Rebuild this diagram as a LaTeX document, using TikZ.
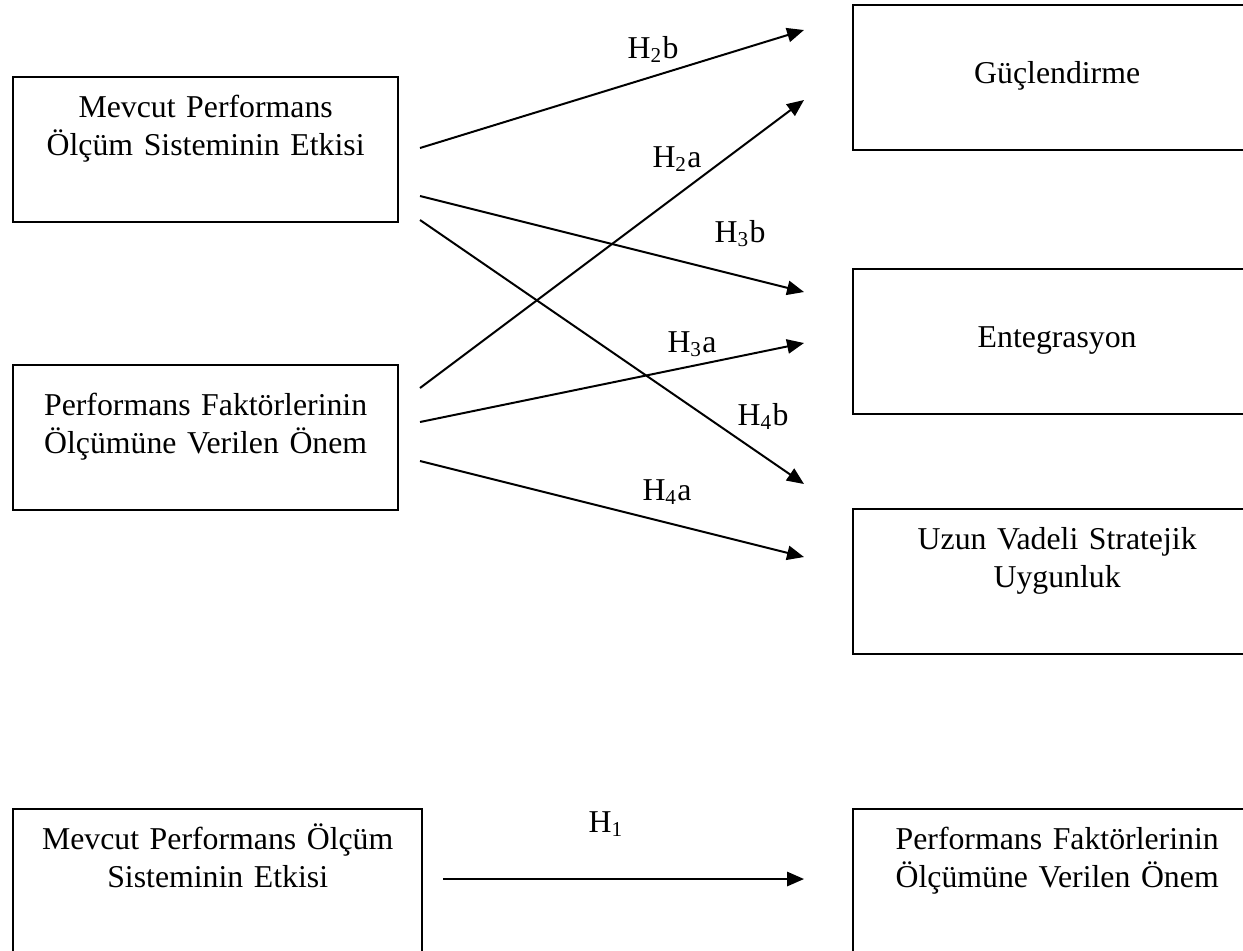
\documentclass[tikz,border=0pt]{standalone}
\usepackage{fontspec}
\setmainfont{Liberation Serif}
\usetikzlibrary{arrows.meta}

\begin{document}
\begin{tikzpicture}[x=0.3775pt,y=-0.3775pt,
  every node/.style={font=\fontsize{12pt}{14.35pt}\selectfont},
  box/.style={draw,line width=0.9pt,inner sep=0pt,anchor=north west,align=center,
    text width=145.3pt,text height=15.3pt,text depth=39.4pt},
  arr/.style={-{Triangle[length=6.4pt,width=5.4pt]},line width=0.75pt},
  hyp/.style={anchor=base,inner sep=0pt}]
\clip (0,0) rectangle (1243,950);
% boxes, left side
\node[box] (mevcut) at (12,76) {Mevcut Performans\\Ölçüm Sisteminin Etkisi};
\node[box,text height=18.9pt,text depth=35.8pt] (onem) at (12,364) {Performans Faktörlerinin\\Ölçümüne Verilen Önem};
% boxes, right side
\node[box,text width=154pt,text height=29.4pt,text depth=25.3pt] (guc) at (852,4) {Güçlendirme};
\node[box,text width=154pt,text height=29.4pt,text depth=25.3pt] (ent) at (852,268) {Entegrasyon};
\node[box,text width=154pt] (uzun) at (852,508) {Uzun Vadeli Stratejik\\Uygunluk};
% boxes, bottom
\node[box,text width=154.4pt] (mevcut1) at (12,808) {Mevcut Performans Ölçüm\\Sisteminin Etkisi};
\node[box,text width=154pt] (onem1) at (852,808) {Performans Faktörlerinin\\Ölçümüne Verilen Önem};
% free ends of the arrows
\coordinate (s2b) at (420,148); \coordinate (e2b) at (804,30);
\coordinate (s2a) at (420,388); \coordinate (e2a) at (804,100);
\coordinate (s3b) at (420,196); \coordinate (e3b) at (804,292);
\coordinate (s4b) at (420,220); \coordinate (e4b) at (804,484);
\coordinate (s3a) at (420,422); \coordinate (e3a) at (804,343);
\coordinate (s4a) at (420,461); \coordinate (e4a) at (804,557);
\coordinate (s1) at (443,879); \coordinate (e1) at (804,879);
\draw[arr] (s2b) -- (e2b);
\draw[arr] (s2a) -- (e2a);
\draw[arr] (s3b) -- (e3b);
\draw[arr] (s4b) -- (e4b);
\draw[arr] (s3a) -- (e3a);
\draw[arr] (s4a) -- (e4a);
\draw[arr] (s1) -- (e1);
% hypotheses
\node[hyp] (h2b) at (653,58) {H\textsubscript{2}b};
\node[hyp] (h2a) at (677,167) {H\textsubscript{2}a};
\node[hyp] (h3b) at (740,242) {H\textsubscript{3}b};
\node[hyp] (h3a) at (692,352) {H\textsubscript{3}a};
\node[hyp] (h4b) at (763,425) {H\textsubscript{4}b};
\node[hyp] (h4a) at (667,500) {H\textsubscript{4}a};
\node[hyp] (h1) at (606,832) {H\textsubscript{1}};
\end{tikzpicture}
\end{document}
